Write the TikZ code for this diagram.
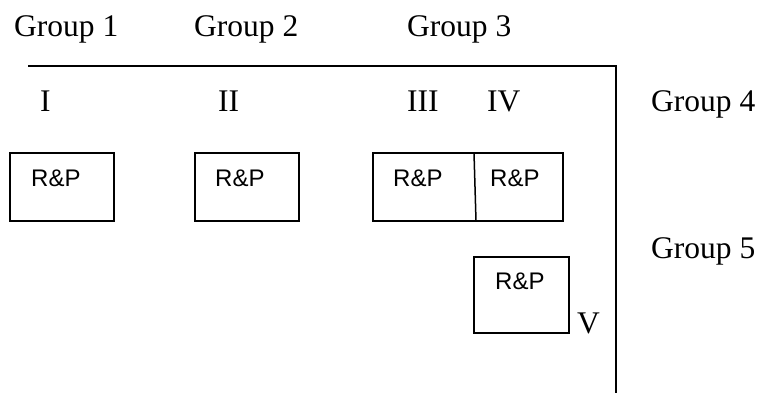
\documentclass[tikz,border=0pt]{standalone}
\usepackage{fontspec}
\setmainfont{Liberation Serif}
\setsansfont{Liberation Sans}

\tikzset{	GroupText/.style={anchor=base west,inner sep=0pt,font=\fontsize{31.5}{36}\selectfont},
		NumText/.style={anchor=base west,inner sep=0pt,font=\fontsize{31.5}{36}\selectfont},
		RPText/.style={anchor=base west,inner sep=0pt,font=\sffamily\fontsize{24}{28}\selectfont},
		RPBox/.style={draw,line width=2pt,inner sep=0pt,outer sep=0pt,anchor=north west}
		}

\begin{document}
\begin{tikzpicture}[x=1pt,y=-1pt]
	\useasboundingbox (0,0) rectangle (759,395);

        % gruppen
	\node[GroupText] (g1) at (14,37) {Group 1};
	\node[GroupText] (g2) at (194,37) {Group 2};
	\node[GroupText] (g3) at (407,37) {Group 3};
	\node[GroupText] (g4) at (651,112) {Group 4};
	\node[GroupText] (g5) at (651,258) {Group 5};

        % rahmen
	\coordinate (tl) at (28,66);
	\coordinate (tr) at (616,66);
	\coordinate (br) at (616,393);
	\draw[line width=2pt] (tl)--(tr)--(br);

        % kaesten
	\node[RPBox,minimum width=104pt,minimum height=68pt] (b1) at (10,153) {};
	\node[RPBox,minimum width=104pt,minimum height=68pt] (b2) at (195,153) {};
	\node[RPBox,minimum width=190pt,minimum height=68pt] (b34) at (373,153) {};
	\node[RPBox,minimum width=95pt,minimum height=76pt] (b5) at (474,257) {};
	\coordinate (d1) at (474,153);
	\coordinate (d2) at (476,221);
	\draw[line width=1.5pt] (d1)--(d2);

	\node[RPText] (t1) at (31,187) {R\&P};
	\node[RPText] (t2) at (215,187) {R\&P};
	\node[RPText] (t3) at (393,187) {R\&P};
	\node[RPText] (t4) at (490,187) {R\&P};
	\node[RPText] (t5) at (495,289) {R\&P};

        % nummern
	\node[NumText] (n1) at (40,112) {I};
	\node[NumText] (n2) at (218,112) {II};
	\node[NumText] (n3) at (407,112) {III};
	\node[NumText] (n4) at (487,112) {IV};
	\node[NumText] (n5) at (577,333) {V};
\end{tikzpicture}
\end{document}
